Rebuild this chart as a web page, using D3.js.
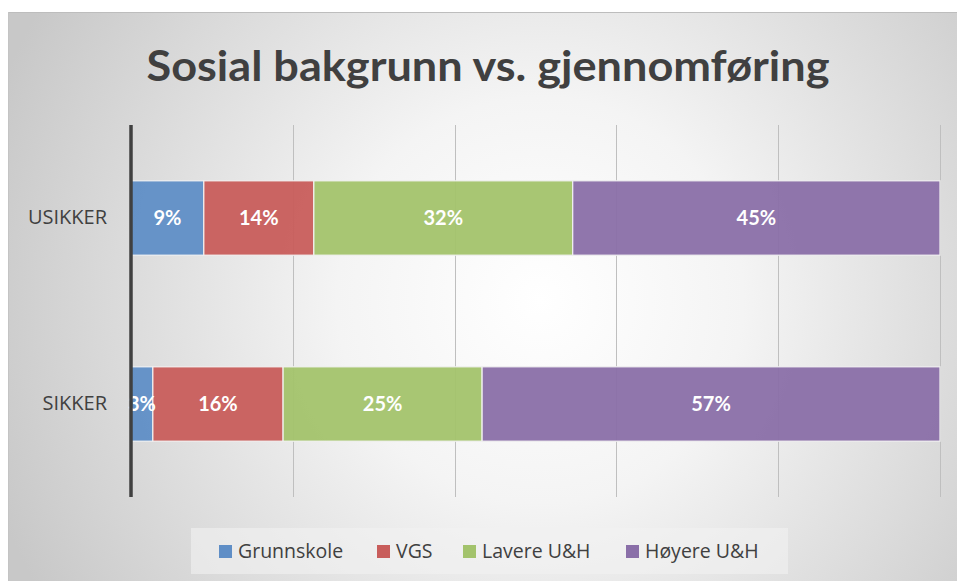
<!DOCTYPE html>
<html><head><meta charset="utf-8">
<script src="https://cdn.jsdelivr.net/npm/d3@7"></script>
<style>html,body{margin:0;padding:0;background:#fff;}svg{display:block;}</style>
</head><body>
<svg id="chart" width="957" height="581"></svg>
<script>
const title = "Sosial bakgrunn vs. gjennomføring";
const categories = ["USIKKER", "SIKKER"];
const seriesNames = ["Grunnskole", "VGS", "Lavere U&H", "Høyere U&H"];
const seriesColors = ["#5f8ec6", "#c85d5b", "#a3c36c", "#8a6fa8"];
const grunnskole = [9.0, 2.7];
const vgs = [13.6, 16.1];
const lavere = [32.0, 24.6];
const hoyere = [45.4, 56.6];
const tickValues = [0, 0.2, 0.4, 0.6, 0.8, 1.0];

const W = 957, H = 581;
const svg = d3.select("#chart");
const defs = svg.append("defs");
const rg = defs.append("radialGradient").attr("id", "bg")
  .attr("gradientUnits", "userSpaceOnUse")
  .attr("cx", 540).attr("cy", 300).attr("r", 580);
rg.append("stop").attr("offset", "0").attr("stop-color", "#ffffff");
rg.append("stop").attr("offset", "0.35").attr("stop-color", "#f4f4f4");
rg.append("stop").attr("offset", "1").attr("stop-color", "#c8c8c8");

svg.append("rect").attr("x", 8).attr("y", 12).attr("width", W - 8).attr("height", H - 12)
  .attr("fill", "url(#bg)");
svg.append("line").attr("x1", 8).attr("x2", W).attr("y1", 12.5).attr("y2", 12.5)
  .attr("stroke", "#bdbdbd").attr("stroke-width", 1);
svg.append("line").attr("x1", 8.5).attr("x2", 8.5).attr("y1", 12).attr("y2", H)
  .attr("stroke", "#c4c4c4").attr("stroke-width", 1);

svg.append("text").attr("x", 488).attr("y", 81).attr("text-anchor", "middle")
  .attr("font-family", "Lato, 'Open Sans', sans-serif").attr("font-weight", "bold")
  .attr("font-size", 42).attr("fill", "#404040")
  .attr("textLength", 683).attr("lengthAdjust", "spacingAndGlyphs")
  .text(title);

const data = categories.map((c, i) => ({
  cat: c,
  [seriesNames[0]]: grunnskole[i],
  [seriesNames[1]]: vgs[i],
  [seriesNames[2]]: lavere[i],
  [seriesNames[3]]: hoyere[i]
}));
const stack = d3.stack().keys(seriesNames).offset(d3.stackOffsetExpand);
const stacked = stack(data);

const x = d3.scaleLinear().domain([0, 1]).range([131, 940]);
const y = d3.scaleBand().domain(categories).range([125, 497]).paddingInner(0.6).paddingOuter(0.3);

// gridlines
svg.append("g").selectAll("line").data(tickValues.slice(1)).join("line")
  .attr("x1", d => Math.round(x(d)) + 0.5).attr("x2", d => Math.round(x(d)) + 0.5)
  .attr("y1", 125).attr("y2", 497)
  .attr("stroke", "#bfbfbf").attr("stroke-width", 1);

// bars
const g = svg.append("g");
stacked.forEach((s, si) => {
  g.selectAll(null).data(s).join("rect")
    .attr("x", d => x(d[0])).attr("width", d => x(d[1]) - x(d[0]))
    .attr("y", d => y(d.data.cat)).attr("height", y.bandwidth())
    .attr("fill", seriesColors[si]).attr("fill-opacity", 0.95)
    .attr("stroke", "#f2f2f2").attr("stroke-width", 1.2);
});
// labels
stacked.forEach((s, si) => {
  g.selectAll(null).data(s).join("text")
    .attr("x", d => (x(d[0]) + x(d[1])) / 2)
    .attr("y", d => y(d.data.cat) + y.bandwidth() / 2)
    .attr("dy", "0.36em").attr("text-anchor", "middle")
    .attr("font-family", "Lato, 'Open Sans', sans-serif").attr("font-weight", "bold")
    .attr("font-size", 20).attr("fill", "#ffffff")
    .text(d => Math.round(d.data[s.key]) + "%");
});

// axis line
const yAxis = d3.axisLeft(y).tickSize(0).tickPadding(24);
const ag = svg.append("g").attr("transform", "translate(131,0)").call(yAxis);
ag.select(".domain").remove();
ag.append("line").attr("x1", 0).attr("x2", 0).attr("y1", 125).attr("y2", 497)
  .attr("stroke", "#404040").attr("stroke-width", 3.5);
ag.selectAll(".tick text").attr("font-family", "'Open Sans', Lato, sans-serif")
  .attr("font-size", 20).attr("fill", "#404040");

// legend
const lg = svg.append("g");
lg.append("rect").attr("x", 191).attr("y", 528).attr("width", 597).attr("height", 46)
  .attr("fill", "#f2f2f2").attr("fill-opacity", 0.6);
const legX = [219, 377, 463, 626];
const items = lg.selectAll("g.item").data(seriesNames).join("g").attr("class", "item")
  .attr("transform", (d, i) => `translate(${legX[i]},551)`);
items.append("rect").attr("x", 0).attr("y", -6).attr("width", 13).attr("height", 13)
  .attr("fill", (d, i) => seriesColors[i]);
items.append("text").attr("x", 19).attr("dy", "0.35em")
  .attr("font-family", "'Open Sans', Lato, sans-serif").attr("font-size", 19.5)
  .attr("fill", "#404040").text(d => d);
</script>
</body></html>
